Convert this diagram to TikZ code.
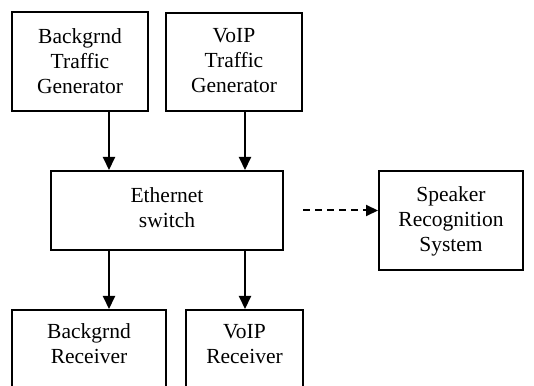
\documentclass[tikz,border=0pt]{standalone}
\usepackage{fontspec}
\setmainfont{Liberation Serif}
\usetikzlibrary{arrows.meta}
\begin{document}
\begin{tikzpicture}[x=1pt,y=1pt,
  box/.style={draw,line width=2pt,rectangle,inner sep=0pt},
  txt/.style={align=center,font=\fontsize{21.5pt}{25pt}\selectfont,inner sep=0pt},
  arr/.style={line width=2pt,-{Triangle[length=13pt,width=12pt]}},
  dasharr/.style={line width=2pt,dash pattern=on 7pt off 5pt,-{Triangle[length=12pt,width=11pt]}}]
\useasboundingbox (0,0) rectangle (534,385);
\clip (0,0) rectangle (534,385);
\node[box,minimum width=136pt,minimum height=99pt] (b1) at (80,323.5) {};
\node[txt] (b1t) at (80,324) {Backgrnd\\Traffic\\Generator};
\node[box,minimum width=136pt,minimum height=98pt] (b2) at (234,323) {};
\node[txt] (b2t) at (234,324) {VoIP\\Traffic\\Generator};
\node[box,minimum width=232pt,minimum height=79pt] (eth) at (167,174.5) {};
\node[txt] (etht) at (167,177) {Ethernet\\switch};
\node[box,minimum width=144pt,minimum height=99pt] (spk) at (451,164.5) {};
\node[txt] (spkt) at (451,164) {Speaker\\Recognition\\System};
\node[box,minimum width=154pt,minimum height=100pt,anchor=north] (bl) at (89,76) {};
\node[txt] (blt) at (89,41) {Backgrnd\\Receiver};
\node[box,minimum width=117pt,minimum height=100pt,anchor=north] (br) at (244.5,76) {};
\node[txt] (brt) at (244.5,41) {VoIP\\Receiver};
\coordinate (c1) at (109,0);
\coordinate (c2) at (245,0);
\draw[arr] (c1 |- b1.south) -- (c1 |- eth.north);
\draw[arr] (c2 |- b2.south) -- (c2 |- eth.north);
\draw[arr] (c1 |- eth.south) -- (c1 |- bl.north);
\draw[arr] (c2 |- eth.south) -- (c2 |- br.north);
\draw[dasharr] ([xshift=19pt]eth.east) -- (spk.west |- eth.east);
\end{tikzpicture}
\end{document}
